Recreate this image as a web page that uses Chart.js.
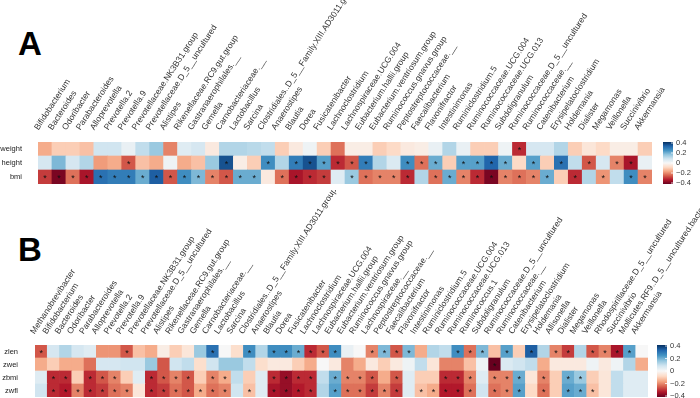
<!DOCTYPE html>
<html>
<head>
<meta charset="utf-8">
<script src="https://cdn.jsdelivr.net/npm/chart.js@4.4.1/dist/chart.umd.min.js"></script>
<style>
  body { margin: 0; background: #fff; width: 700px; height: 398px; overflow: hidden; position: relative; font-family: "Liberation Sans", Arial, sans-serif; }
  .wrap { position: absolute; left: 0; width: 700px; }
  .tag { position: absolute; left: 18px; font-weight: bold; font-size: 33px; line-height: 1; color: #000; }
</style>
</head>
<body>
<div class="tag" style="top:27px">A</div>
<div class="tag" style="top:233px">B</div>
<div class="wrap" style="top:0;height:190px"><canvas id="heatA" width="700" height="190"></canvas></div>
<div class="wrap" style="top:190px;height:208px"><canvas id="heatB" width="700" height="208"></canvas></div>
<script>
// ---- panel A data ----
const generaA = ['Bifidobacterium','Bacteroides','Odoribacter','Parabacteroides','Alloprevotella','Prevotella.2','Prevotella.9',
  'Prevotellaceae.NK3B31.group','Prevotellaceae.D_5__uncultured','Alistipes','Rikenellaceae.RC9.gut.group','Gastranaerophilales.__',
  'Gemella','Carnobacteriaceae.__','Lactobacillus','Sarcina','Clostridiales..D_5__Family.XIII.AD3011.group','Anaerostipes','Blautia',
  'Dorea','Fusicatenibacter','Lachnoclostridium','Lachnospiraceae.UCG.004','Eubacterium.hallii.group','Eubacterium.ventriosum.group',
  'Ruminococcus.gnavus.group','Peptostreptococcaceae.__','Faecalibacterium','Flavonifractor','Intestinimonas','Ruminiclostridium.5',
  'Ruminococcaceae.UCG.004','Ruminococcaceae.UCG.013','Subdoligranulum','Ruminococcaceae.D_5__uncultured','Ruminococcaceae.__',
  'Catenibacterium','Erysipelatoclostridium','Holdemania','Dialister','Megamonas','Veillonella','Succinivibrio','Akkermansia'];
const rowsA = ['weight','height','bmi'];
const weightA = [-0.15,-0.1,-0.1,-0.12,0.08,0.08,0.03,0.1,0.15,-0.2,0.05,0.07,-0.04,0.12,0.12,0.11,0.1,-0.1,-0.04,0.02,-0.1,-0.22,
  -0.03,-0.03,-0.1,-0.08,-0.04,-0.03,0.03,0.12,0.03,-0.1,-0.1,0.02,-0.3,0.07,0.07,0.12,-0.1,-0.05,-0.08,-0.03,-0.03,-0.1];
const heightA = [0.07,0.18,0.07,0.12,-0.17,-0.15,-0.25,-0.12,-0.15,0.02,-0.15,-0.12,0.15,0.35,-0.03,-0.1,0.25,0.12,0.28,0.35,0.22,-0.3,
  -0.25,0.28,0.12,0.06,0.25,-0.22,0.2,-0.1,0.22,0.22,0.32,0.2,-0.08,0.22,-0.1,0.3,0.1,-0.25,0.07,-0.2,-0.33,0.03];
const bmiA = [-0.28,-0.38,-0.22,-0.33,0.3,0.28,0.28,0.2,0.33,-0.25,0.25,0.18,-0.2,-0.25,0.2,0.2,-0.04,-0.22,-0.33,-0.3,-0.28,0.05,
  0.15,-0.22,-0.2,-0.2,-0.3,0.12,-0.22,0.2,-0.2,-0.3,-0.38,-0.2,-0.22,-0.2,0.2,-0.1,-0.3,0.12,-0.18,0.1,0.25,-0.2];
// significance marks (1 = star)
const weightSigA = [0,0,0,0,0,0,0,0,0,0,0,0,0,0,0,0,0,0,0,0,0,0,0,0,0,0,0,0,0,0,0,0,0,0,1,0,0,0,0,0,0,0,0,0];
const heightSigA = [0,0,0,0,0,0,1,0,0,0,0,0,0,1,0,0,1,0,1,1,1,1,1,1,0,0,1,1,1,0,1,1,1,1,0,1,0,1,0,1,0,1,1,0];
const bmiSigA    = [1,1,1,1,1,1,1,1,1,1,1,1,1,1,1,1,0,1,1,1,1,0,1,1,1,1,1,0,1,1,1,1,1,1,1,1,1,0,1,0,1,0,1,1];

// ---- panel B data ----
const generaB = ['Methanobrevibacter','Bifidobacterium','Bacteroides','Odoribacter','Parabacteroides','Alloprevotella','Prevotella.2',
  'Prevotella.9','Prevotellaceae.NK3B31.group','Prevotellaceae.D_5__uncultured','Alistipes','Rikenellaceae.RC9.gut.group',
  'Gastranaerophilales.__','Gemella','Carnobacteriaceae.__','Lactobacillus','Sarcina','Clostridiales..D_5__Family.XIII.AD3011.group',
  'Anaerostipes','Blautia','Dorea','Fusicatenibacter','Lachnoclostridium','Lachnospiraceae.UCG.004','Eubacterium.hallii.group',
  'Eubacterium.ventriosum.group','Ruminococcus.gnavus.group','Lachnospiraceae.__','Peptostreptococcaceae.__','Faecalibacterium',
  'Flavonifractor','Intestinimonas','Ruminiclostridium.5','Ruminococcaceae.UCG.004','Ruminococcaceae.UCG.013','Ruminococcus.1',
  'Subdoligranulum','Ruminococcaceae.D_5__uncultured','Ruminococcaceae.__','Catenibacterium','Erysipelatoclostridium','Holdemania',
  'Allisonella','Dialister','Megamonas','Veillonella','Rhodospirillaceae.D_5__uncultured','Succinivibrio',
  'Mollicutes.RF9..D_5__uncultured.bacterium','Akkermansia'];
const rowsB = ['zlen','zwei','zbmi','zwfl'];
const zlenB = [-0.25,0.07,0.12,0.07,0.05,-0.18,-0.18,-0.25,-0.12,-0.15,-0.03,-0.1,-0.05,0.15,0.3,0,-0.07,0.25,0.12,0.25,0.25,0.2,
  -0.3,-0.25,0.25,0.03,0,-0.2,0.18,-0.25,0.18,-0.15,0.12,0.1,0.25,-0.22,0.18,-0.12,0.22,-0.1,0.33,0.12,-0.2,-0.28,0.12,-0.25,-0.2,-0.33,0.22,0];
const zweiB = [-0.15,-0.1,-0.15,-0.15,-0.22,0.07,0.07,0.08,0.08,0.15,-0.25,0.08,0.1,-0.07,0.08,0.15,0.15,0.1,-0.07,-0.04,-0.04,-0.1,
  -0.15,0,-0.04,-0.2,-0.15,-0.04,-0.1,-0.04,0.02,0.1,-0.05,-0.2,-0.2,-0.12,0.02,-0.4,0.06,0.08,0.1,-0.15,-0.04,-0.04,-0.04,0.02,-0.04,0.02,0.12,-0.15];
const zbmiB = [0.05,-0.3,-0.3,-0.1,-0.3,-0.25,-0.2,-0.1,0.05,-0.3,-0.25,-0.2,-0.25,-0.1,-0.2,-0.15,0.1,-0.1,0.05,-0.3,-0.35,-0.3,
  -0.3,0.1,0.2,-0.2,-0.2,-0.25,-0.15,-0.25,0.05,-0.1,-0.1,-0.3,-0.3,-0.2,0.05,-0.2,-0.2,0.2,-0.05,-0.2,-0.1,0.2,0.15,-0.1,-0.05,0.1,0.05,0.05];
const zwflB = [0.08,-0.3,-0.32,-0.2,-0.3,-0.28,-0.22,-0.2,-0.05,-0.3,-0.28,-0.22,-0.25,-0.15,-0.22,-0.2,0.08,-0.12,0.05,-0.33,-0.35,-0.32,
  -0.3,0.12,0.22,-0.22,-0.22,-0.28,-0.2,-0.28,0.05,-0.12,-0.15,-0.32,-0.32,-0.22,0.08,-0.22,-0.2,0.22,-0.08,-0.22,-0.1,0.22,0.2,-0.12,-0.05,0.1,0.05,0.05];
const zlenSigB = [1,0,0,0,0,0,0,1,0,0,0,0,0,0,1,0,0,1,0,1,1,1,1,1,1,0,0,1,1,1,1,0,0,0,1,1,1,0,1,0,1,0,1,1,0,1,1,1,1,0];
const zweiSigB = [0,0,0,0,0,0,0,0,0,0,0,0,0,0,0,0,0,0,0,0,0,0,0,0,0,0,0,0,0,0,0,0,0,0,0,0,0,1,0,0,0,0,0,0,0,0,0,0,0,0];
const zbmiSigB = [0,1,1,0,1,1,1,0,0,1,1,1,1,0,1,1,0,0,0,1,1,1,1,0,1,1,1,1,0,1,0,0,0,1,1,1,0,1,1,1,0,1,0,1,1,0,0,0,0,0];
const zwflSigB = [0,1,1,1,1,1,1,1,0,1,1,1,1,1,1,1,0,1,0,1,1,1,1,0,1,1,1,1,1,1,0,1,1,1,1,1,0,1,1,1,0,1,0,1,1,1,0,0,0,0];

const legendTicks = [0.4, 0.2, 0, -0.2, -0.4];

// RdBu palette, red = negative, blue = positive
const RDBU = ['#67001F','#B2182B','#D6604D','#F4A582','#FDDBC7','#F7F7F7','#D1E5F0','#92C5DE','#4393C3','#2166AC','#053061'];
function hex2rgb(h) { return [1,3,5].map(i => parseInt(h.substr(i,2),16)); }
function colorFor(v) {
  let t = (Math.max(-0.4, Math.min(0.4, v)) + 0.4) / 0.8 * (RDBU.length - 1);
  let i = Math.min(Math.floor(t), RDBU.length - 2), f = t - i;
  let a = hex2rgb(RDBU[i]), b = hex2rgb(RDBU[i+1]);
  return 'rgb(' + a.map((c,k) => Math.round(c + (b[k]-c)*f)).join(',') + ')';
}

Chart.defaults.font.family = '"Liberation Sans", Arial, sans-serif';
Chart.defaults.color = '#333';

// stars + colour key
const heatExtras = {
  id: 'heatExtras',
  afterDatasetsDraw(chart, args, opts) {
    const {ctx, scales: {x, y}} = chart;
    const n = opts.sig.length;
    ctx.save();
    ctx.fillStyle = '#111';
    ctx.font = '9px "Liberation Sans", Arial, sans-serif';
    ctx.textAlign = 'center';
    ctx.textBaseline = 'middle';
    opts.sig.forEach((row, r) => row.forEach((s, i) => {
      if (s) ctx.fillText('*', x.getPixelForValue(i), y.getPixelForValue(n - r - 0.5) + 2);
    }));
    // colour key
    const ca = chart.chartArea;
    const bx = ca.right + opts.keyGap, bw = 10;
    const grad = ctx.createLinearGradient(0, ca.top, 0, ca.bottom);
    RDBU.slice().reverse().forEach((c, k) => grad.addColorStop(k / (RDBU.length - 1), c));
    ctx.fillStyle = grad;
    ctx.fillRect(bx, ca.top, bw, ca.bottom - ca.top);
    ctx.font = '7.5px "Liberation Sans", Arial, sans-serif';
    ctx.textAlign = 'left';
    ctx.fillStyle = '#333';
    ctx.strokeStyle = '#fff';
    ctx.lineWidth = 0.8;
    legendTicks.forEach(v => {
      const ty = ca.top + 1 + (0.4 - v) / 0.8 * (ca.bottom - ca.top - 2);
      ctx.beginPath(); ctx.moveTo(bx + bw - 2, ty); ctx.lineTo(bx + bw, ty); ctx.stroke();
      ctx.fillText(String(v).replace('-', '\u2212'), bx + bw + 3, ty);
    });
    ctx.restore();
  }
};

function heatmap(id, genera, rows, values, sig, box) {
  const n = rows.length;
  // bottom row is the first stacked dataset
  const datasets = rows.map((name, r) => ({
    label: name,
    data: genera.map(() => 1),
    backgroundColor: values[r].map(colorFor),
    borderWidth: 0,
    barPercentage: 1,
    categoryPercentage: 1
  })).reverse();
  return new Chart(document.getElementById(id), {
    type: 'bar',
    data: { labels: genera, datasets },
    options: {
      responsive: false,
      animation: false,
      layout: { padding: { top: 0, left: 0, right: box.right, bottom: box.bottom } },
      scales: {
        x: {
          position: 'top',
          stacked: true,
          grid: { display: false, drawTicks: false },
          border: { display: false },
          ticks: { autoSkip: false, minRotation: 57, maxRotation: 57, padding: box.labelPad, font: { size: 8.5 }, color: '#333' },
          afterFit(s) { s.height = box.top; s.paddingLeft = 0; s.paddingRight = 0; }
        },
        y: {
          stacked: true,
          min: 0, max: n,
          grid: { display: false, drawTicks: false },
          border: { display: false },
          afterBuildTicks(s) { s.ticks = rows.map((_, k) => ({ value: k + 0.5 })); },
          ticks: { autoSkip: false, padding: box.rowPad, font: { size: 7.5 }, color: '#222',
                   callback: v => rows[n - 1 - Math.floor(v)] },
          afterFit(s) { s.width = box.left; s.paddingTop = 0; s.paddingBottom = 0; }
        }
      },
      plugins: {
        legend: false,
        tooltip: { enabled: false },
        heatExtras: { sig, keyGap: box.keyGap }
      }
    },
    plugins: [heatExtras]
  });
}

heatmap('heatA', generaA, rowsA, [weightA, heightA, bmiA], [weightSigA, heightSigA, bmiSigA],
  { top: 142, left: 38, right: 48, bottom: 6, labelPad: 10, rowPad: 16, keyGap: 11 });
heatmap('heatB', generaB, rowsB, [zlenB, zweiB, zbmiB, zwflB], [zlenSigB, zweiSigB, zbmiSigB, zwflSigB],
  { top: 155, left: 35, right: 52, bottom: 1, labelPad: 9, rowPad: 17, keyGap: 9 });
</script>
</body>
</html>
